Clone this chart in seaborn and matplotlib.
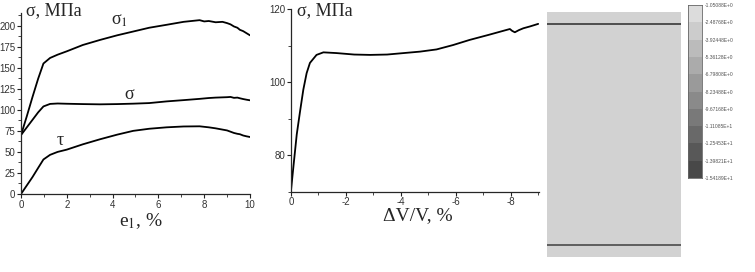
import numpy as np
import pandas as pd
import matplotlib
matplotlib.use("Agg")
import matplotlib.pyplot as plt
from matplotlib.ticker import MultipleLocator
import seaborn as sns

# left panel: stresses vs e1, %
e1 = [0, 0.25, 0.5, 0.75, 0.98, 1.27, 1.6, 2.0, 2.7, 3.45, 4.2, 4.9, 5.6, 6.36, 7.1, 7.8,
      8.0, 8.2, 8.5, 8.8, 9.0, 9.15, 9.3, 9.45, 9.56, 9.7, 9.85, 10.0]
sigma1 = [70, 92, 115, 137, 155, 161.6, 165.5, 169.5, 177, 183, 188.5, 193, 197.5, 201, 204.5, 206.5,
          205, 205.5, 204, 204.5, 203, 201.5, 199, 197.5, 195, 193.5, 191, 188.5]
sigma = [70, 79, 88, 97, 104, 107, 107.5, 107.2, 106.8, 106.5, 106.8, 107.3, 108, 110, 111.5, 113,
         113.5, 114, 114.5, 114.8, 115, 115.3, 114.2, 114.5, 113.7, 112.8, 112, 111.3]
tau = [0, 10, 20, 31, 41, 46.5, 50, 52.7, 59, 65, 70.5, 75, 77.5, 79.2, 80.2, 80.4,
       79.8, 79.2, 78, 76.5, 75.5, 74, 72.5, 71.5, 71, 69.5, 68.5, 67.7]

# middle panel: sigma vs volume change
dv = [0, -0.085, -0.21, -0.33, -0.45, -0.57, -0.69, -0.93, -1.18, -1.66, -2.3, -2.88, -3.5, -4.1,
      -4.7, -5.3, -5.9, -6.5, -7.2, -7.97, -8.05, -8.15, -8.3, -8.46, -8.7, -9.0]
sig_v = [70.3, 76.6, 85.7, 92, 98, 102.5, 105.3, 107.5, 108.2, 108, 107.6, 107.5, 107.6, 108,
         108.4, 109, 110.2, 111.6, 113, 114.6, 114.1, 113.7, 114.3, 114.8, 115.3, 116]

# colorbar labels of the field picture
cbar_labels = ["-1.05088E+0", "-2.48768E+0", "-3.92448E+0", "-5.36128E+0", "-6.79808E+0",
               "-8.23488E+0", "-9.67168E+0", "-1.11085E+1", "-1.25453E+1", "-1.39821E+1",
               "-1.54189E+1"]
cbar_levels = [0, 1, 2, 3, 4, 5, 6, 7, 8, 9]

sns.set_style("ticks")
plt.rcParams["mathtext.fontset"] = "stix"
plt.rcParams["axes.unicode_minus"] = False
tick_font = {"family": "Liberation Sans", "size": 7}
serif = ["Liberation Serif", "DejaVu Serif"]

fig = plt.figure(figsize=(7.55, 2.72), dpi=100)

# ---- left panel
ax1 = fig.add_axes([0.0278, 0.2868, 0.3033, 0.6654])
df1 = pd.DataFrame({"e1": e1, "s1": sigma1, "s": sigma, "t": tau})
for col in ["s1", "s", "t"]:
    sns.lineplot(data=df1, x="e1", y=col, ax=ax1, color="black", lw=1.3)
ax1.set_xlim(0, 10)
ax1.set_ylim(0, 215)
ax1.xaxis.set_major_locator(MultipleLocator(2))
ax1.xaxis.set_minor_locator(MultipleLocator(1))
ax1.yaxis.set_major_locator(MultipleLocator(25))
ax1.yaxis.set_minor_locator(MultipleLocator(12.5))
ax1.set_xlabel("")
ax1.set_ylabel("")
ax1.text(4.32, 206, "σ$_1$", family=serif, size=13, ha="center", va="center")
ax1.text(4.74, 118, "σ", family=serif, size=13, ha="center", va="center")
ax1.text(1.7, 64, "τ", family=serif, size=13, ha="center", va="center")
fig.text(26 / 755, 1 - 2 / 272, "σ, МПа", family=serif, size=13, ha="left", va="top")
fig.text(141 / 755, 1 - 221 / 272, "e$_1$, %", family=serif, size=14, ha="center", va="center")

# ---- middle panel
ax2 = fig.add_axes([0.3854, 0.2952, 0.3285, 0.6706])
df2 = pd.DataFrame({"dv": dv, "s": sig_v})
sns.lineplot(data=df2, x="dv", y="s", ax=ax2, color="black", lw=1.3)
ax2.set_xlim(0, -9.03)
ax2.set_ylim(70, 120)
ax2.xaxis.set_major_locator(MultipleLocator(2))
ax2.xaxis.set_minor_locator(MultipleLocator(1))
ax2.yaxis.set_major_locator(MultipleLocator(20))
ax2.yaxis.set_minor_locator(MultipleLocator(10))
ax2.set_xlabel("")
ax2.set_ylabel("")
fig.text(297 / 755, 1 - 2 / 272, "σ, МПа", family=serif, size=13, ha="left", va="top")
fig.text(418 / 755, 1 - 216 / 272, "ΔV/V, %", family=serif, size=14, ha="center", va="center")

for ax in (ax1, ax2):
    sns.despine(ax=ax)
    ax.tick_params(which="major", length=3, width=0.8, pad=1, colors="#222222")
    ax.tick_params(which="minor", length=2, width=0.6)
    for lab in ax.get_xticklabels() + ax.get_yticklabels():
        lab.set_fontfamily(tick_font["family"])
        lab.set_fontsize(tick_font["size"])
        lab.set_color("#333333")
    for sp in ax.spines.values():
        sp.set_linewidth(0.9)

# ---- right panel: field picture
ax3 = fig.add_axes([0.7245, 0.0551, 0.1775, 0.9007])
ax3.set_facecolor("#d2d2d2")
ax3.axhline(0.951, color="#444444", lw=1.3)
ax3.axhline(0.049, color="#555555", lw=1.3)
ax3.set_xlim(0, 1)
ax3.set_ylim(0, 1)
ax3.set_xticks([])
ax3.set_yticks([])
for sp in ax3.spines.values():
    sp.set_visible(False)

# colorbar
ax4 = fig.add_axes([0.9113, 0.3456, 0.0185, 0.636])
cmap = sns.blend_palette(["#dcdcdc", "#484848"], n_colors=10, as_cmap=True)
sns.heatmap(np.array(cbar_levels).reshape(-1, 1), cmap=cmap, cbar=False, ax=ax4,
            xticklabels=False, yticklabels=False, linewidths=0)
ax4.set_yticks(range(11))
ax4.set_yticklabels(cbar_labels, fontsize=3.6, color="#555555", family="Liberation Sans")
ax4.yaxis.tick_right()
ax4.tick_params(axis="y", length=0, pad=2)
ax4.set_xlabel("")
ax4.set_ylabel("")
for sp in ax4.spines.values():
    sp.set_visible(True)
    sp.set_color("#666666")
    sp.set_linewidth(0.6)

fig.savefig("out.png", dpi=100)
